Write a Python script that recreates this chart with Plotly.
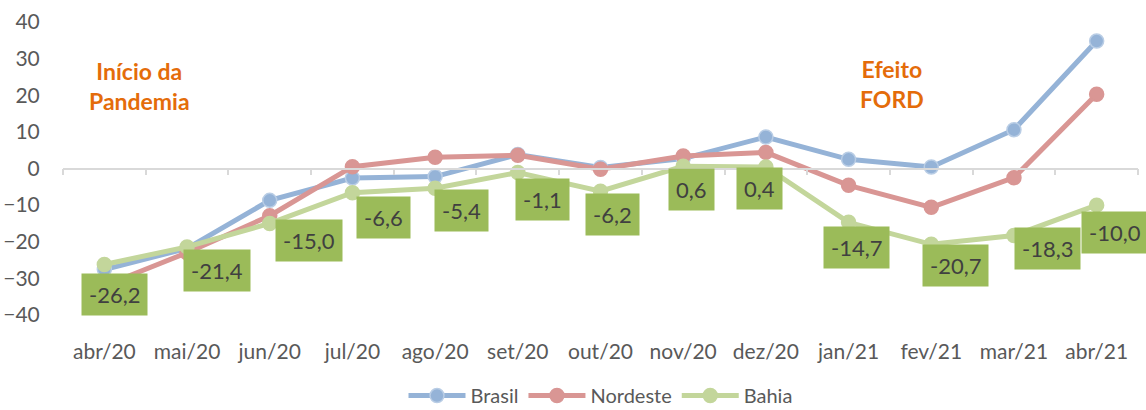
import plotly.graph_objects as go

months = ["abr/20", "mai/20", "jun/20", "jul/20", "ago/20", "set/20", "out/20",
          "nov/20", "dez/20", "jan/21", "fev/21", "mar/21", "abr/21"]
brasil = [-27.6, -21.8, -8.7, -2.6, -2.2, 3.8, 0.3, 2.7, 8.6, 2.5, 0.4, 10.6, 34.8]
nordeste = [-32.0, -23.0, -12.9, 0.5, 3.1, 3.6, -0.2, 3.4, 4.4, -4.6, -10.6, -2.5, 20.3]
bahia = [-26.2, -21.4, -15.0, -6.6, -5.4, -1.1, -6.2, 0.6, 0.4, -14.7, -20.7, -18.3, -10.0]
ticks_y = [-40, -30, -20, -10, 0, 10, 20, 30, 40]

# label offsets (pixels) for the Bahia data labels
label_dx = [10, 30, 39, 31, 26, 25, 12, 8, -6, 8, 24, 34, 18]
label_dy = [30, 24, 17, 25, 22, 27, 23, 23, 21, 25, 21, 13, 27]

FONT = "Lato"
TXT = "#595959"

fig = go.Figure()
series = [
    ("Brasil", brasil, "#95B3D7", "#B9CDE5"),
    ("Nordeste", nordeste, "#D99694", "#D99694"),
    ("Bahia", bahia, "#C3D69B", "#C3D69B"),
]
for name, vals, col, edge in series:
    fig.add_trace(go.Scatter(
        x=months, y=vals, name=name, mode="lines+markers",
        line=dict(color=col, width=5),
        marker=dict(size=14, color=col, line=dict(color=edge, width=1.5)),
    ))

# invisible trace for the axis drawn at zero
fig.add_trace(go.Scatter(x=months, y=[0] * len(months), xaxis="x2", mode="lines",
                         line=dict(width=0), showlegend=False, hoverinfo="skip"))

for i, (m, v) in enumerate(zip(months, bahia)):
    fig.add_annotation(
        x=m, y=v, text=f"{v:.1f}".replace(".", ","), showarrow=False,
        xshift=label_dx[i], yshift=-label_dy[i],
        bgcolor="#9BBB59", borderpad=7,
        font=dict(family=FONT, size=22, color="#404040"),
    )

fig.add_annotation(x=0.43, y=22.5, text="<b>Início da<br>Pandemia</b>", showarrow=False,
                   font=dict(family=FONT, size=23, color="#E46C0A"))
fig.add_annotation(x=9.52, y=23.0, text="<b>Efeito<br>FORD</b>", showarrow=False,
                   font=dict(family=FONT, size=23, color="#E46C0A"))

fig.update_layout(
    width=1146, height=410,
    margin=dict(l=63, r=8, t=22, b=95, autoexpand=False),
    plot_bgcolor="white", paper_bgcolor="white",
    font=dict(family=FONT, size=21, color=TXT),
    xaxis=dict(type="category", range=[-0.5, 12.5], showgrid=False, showline=False,
               ticks="outside", ticklen=18, tickcolor="rgba(0,0,0,0)", automargin=False,
               tickfont=dict(size=21, color=TXT), zeroline=False),
    xaxis2=dict(type="category", range=[-0.5, 12.5], overlaying="x", anchor="free",
                position=0.5, side="bottom", showline=True, linecolor="#D9D9D9", linewidth=1.5,
                ticks="outside", tickson="boundaries", ticklen=6, tickcolor="#D9D9D9",
                tickwidth=1.5, showticklabels=False, showgrid=False, automargin=False),
    yaxis=dict(range=[-40, 40], tickvals=ticks_y, showgrid=False, zeroline=False,
               showline=False, ticks="outside", ticklen=18, tickcolor="rgba(0,0,0,0)",
               automargin=False, tickfont=dict(size=21, color=TXT)),
    legend=dict(orientation="h", x=0.5, xanchor="center", y=-0.275, yanchor="middle",
                font=dict(size=20, color=TXT), itemwidth=57),
    showlegend=True,
)

fig.write_html("out.html", config={"displayModeBar": False},
               post_script="document.body.style.margin='0';")
